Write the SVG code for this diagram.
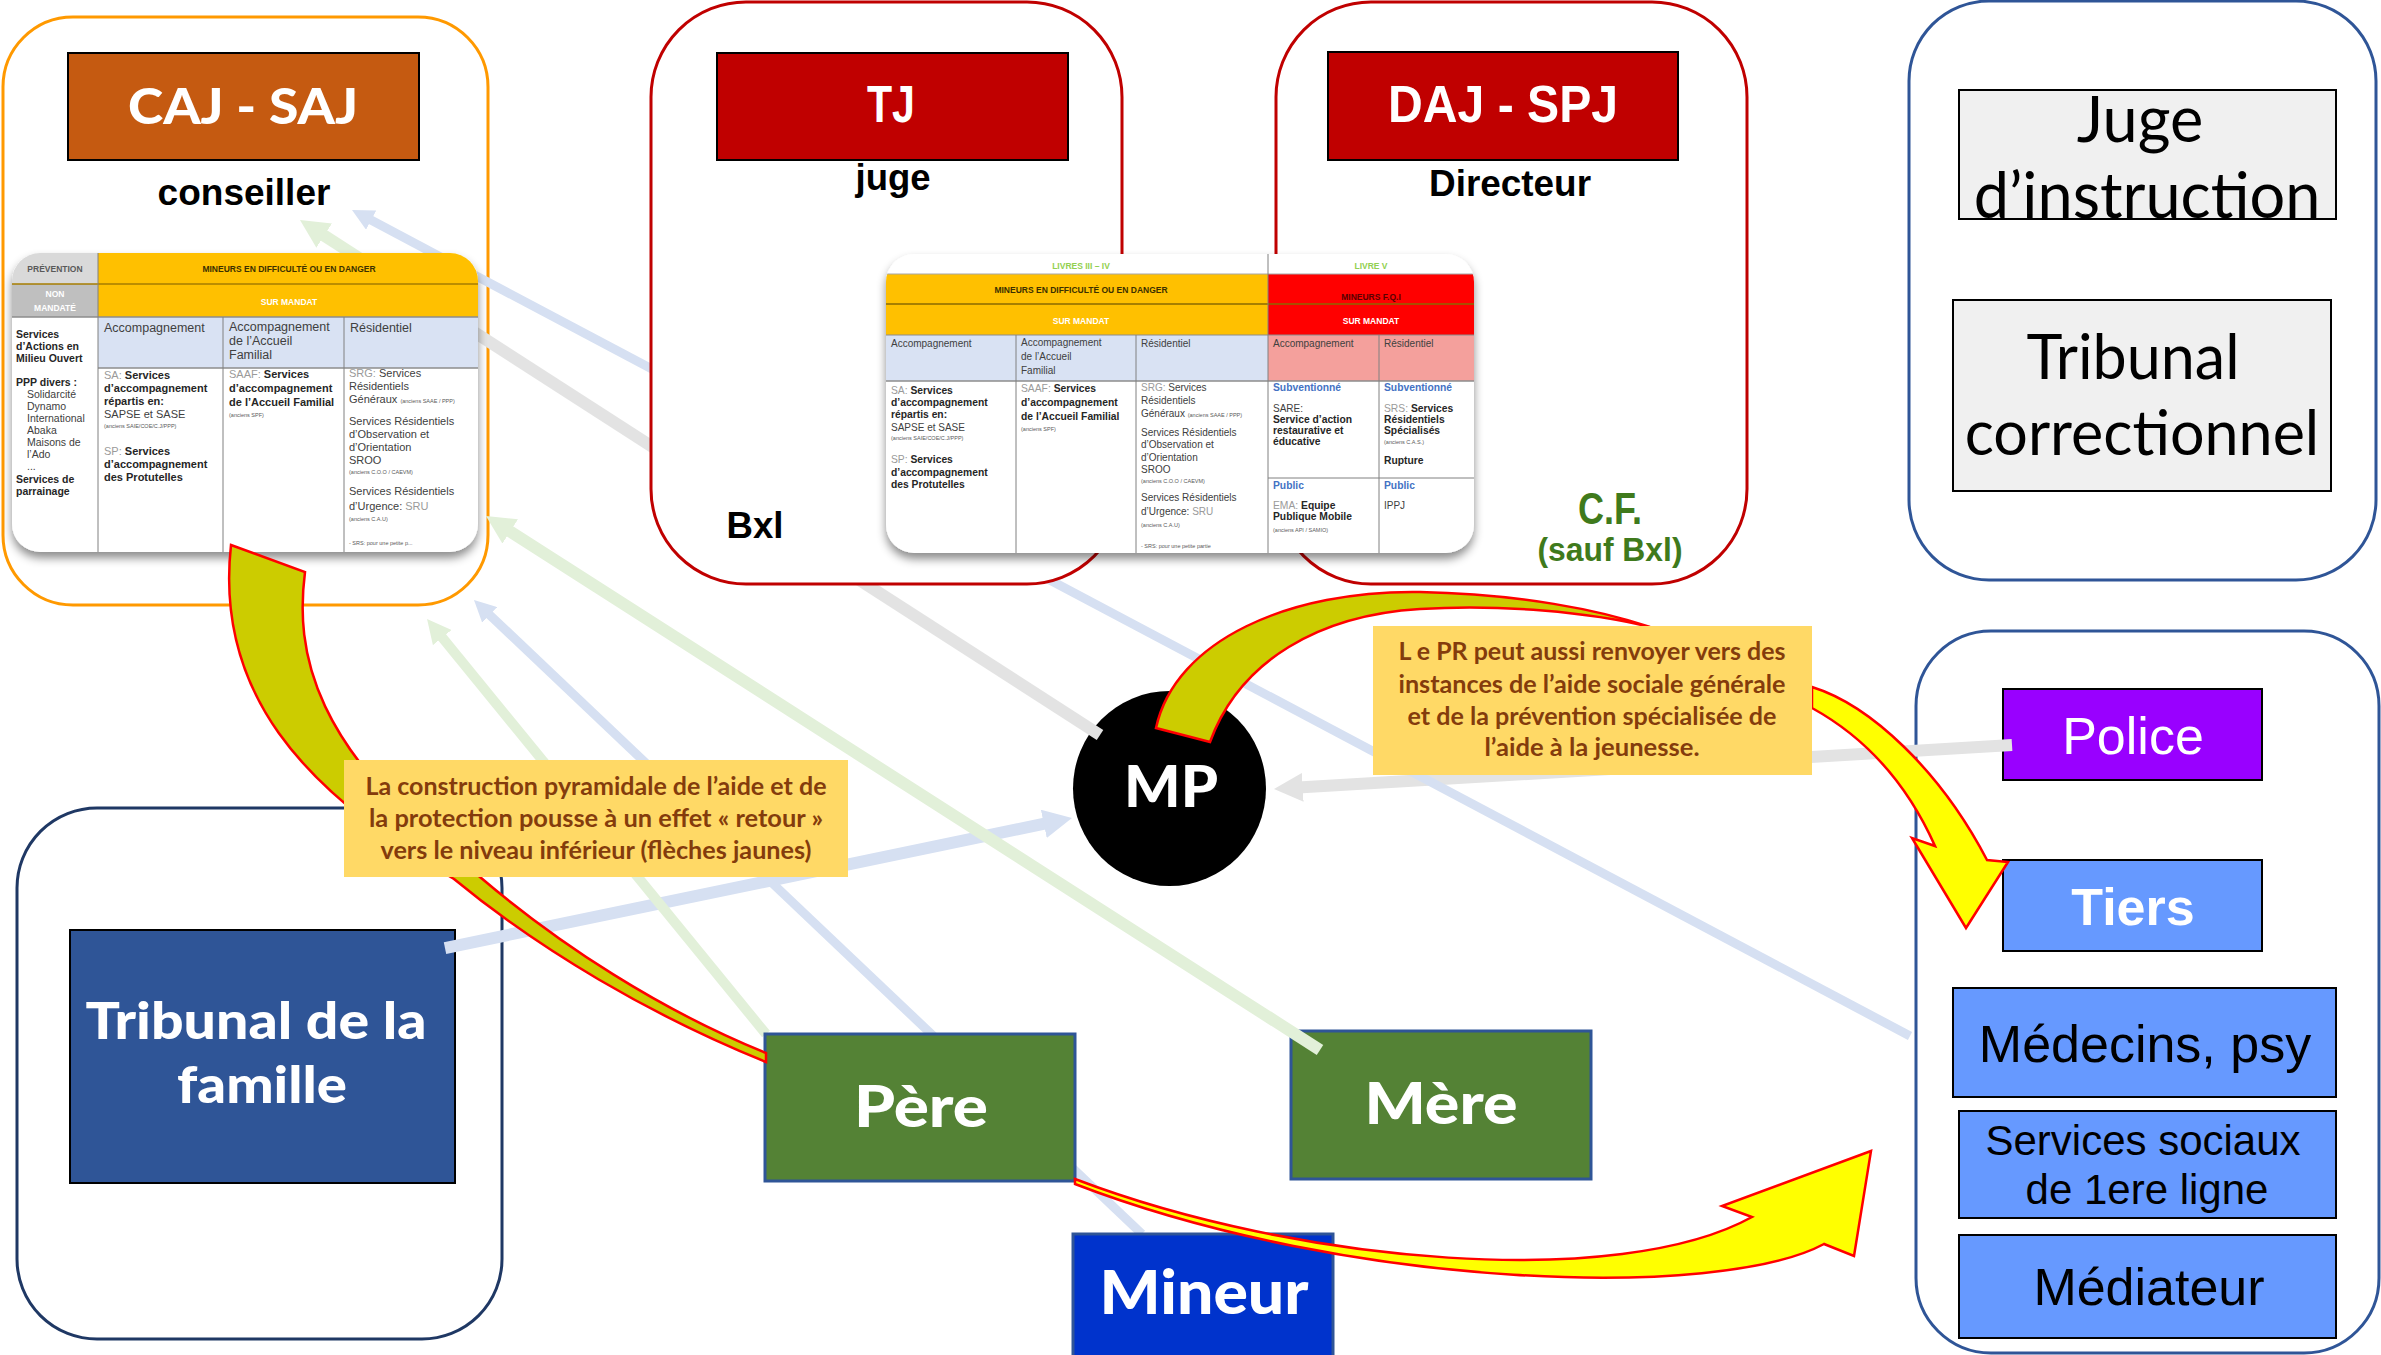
<svg xmlns="http://www.w3.org/2000/svg" width="2381" height="1355" viewBox="0 0 2381 1355">
<defs>
<style>
.cont{fill:#fff;stroke-width:3}
.box{stroke:#000;stroke-width:2}
.pbox{stroke:#2F5597;stroke-width:3}
.tw{font-family:Lato,"Liberation Sans",sans-serif;font-weight:900;fill:#fff;text-anchor:middle}
.ab{font-family:"Liberation Sans",Arial,sans-serif;font-weight:700;text-anchor:middle}
.ar{font-family:"Liberation Sans",Arial,sans-serif;text-anchor:middle}
.gs{font-family:Lato,"Liberation Sans",sans-serif;text-anchor:middle;fill:#000}
.callout{fill:#FFD966}
.ct{font-family:Lato,"Liberation Sans",sans-serif;font-weight:700;font-size:25px;fill:#843C0C;text-anchor:middle}
.conn{fill:none;stroke-linecap:butt}
.olive{fill:#CCCC00;stroke:#FF0000;stroke-width:2.5;stroke-linejoin:miter}
.yel{fill:#FFFF00;stroke:#FF0000;stroke-width:2.5;stroke-linejoin:miter}
.tb{font-family:"Liberation Sans",sans-serif;font-size:11px;font-weight:700;fill:#262626}
.tr{font-family:"Liberation Sans",sans-serif;font-size:11px;fill:#404040}
.tc1{font-family:"Liberation Sans",sans-serif;font-size:10.5px;font-weight:700;fill:#262626}
.tc1r{font-family:"Liberation Sans",sans-serif;font-size:10.5px;fill:#404040}
.tn{font-family:"Liberation Sans",sans-serif;font-size:10.3px;font-weight:700;fill:#262626}
.tnr{font-family:"Liberation Sans",sans-serif;font-size:10px;fill:#404040}
.tg{fill:#9A9A9A;font-weight:400}
.ts{font-family:"Liberation Sans",sans-serif;font-size:5.5px;fill:#595959;font-weight:400}
.th{font-family:"Liberation Sans",sans-serif;font-size:12.5px;fill:#404040}
.thn{font-family:"Liberation Sans",sans-serif;font-size:10px;fill:#404040}
.hd{font-family:"Liberation Sans",sans-serif;font-size:8.5px;font-weight:700;text-anchor:middle}
.blu{fill:#4472C4;font-weight:700}
.grid{stroke:#808080;stroke-width:1;fill:none}
</style>
<marker id="mk-blue" viewBox="0 0 10 10" refX="4.5" refY="5" markerWidth="2.4" markerHeight="2.4" orient="auto" markerUnits="strokeWidth"><path d="M0,0 L10,5 L0,10 Z" fill="#D6E0F2"/></marker>
<marker id="mk-green" viewBox="0 0 10 10" refX="4.5" refY="5" markerWidth="2.4" markerHeight="2.4" orient="auto" markerUnits="strokeWidth"><path d="M0,0 L10,5 L0,10 Z" fill="#E2F0D9"/></marker>
<marker id="mk-grey" viewBox="0 0 10 10" refX="4.5" refY="5" markerWidth="2.4" markerHeight="2.4" orient="auto" markerUnits="strokeWidth"><path d="M0,0 L10,5 L0,10 Z" fill="#E3E3E3"/></marker>
<filter id="shadow" x="-10%" y="-10%" width="120%" height="130%"><feDropShadow dx="0" dy="6" stdDeviation="5" flood-color="#000" flood-opacity="0.45"/></filter>
<clipPath id="clipCaj"><rect x="12" y="253" width="466" height="299" rx="28"/></clipPath>
<clipPath id="clipMid"><rect x="886" y="254" width="588" height="299" rx="28"/></clipPath>
<linearGradient id="gradF" gradientUnits="userSpaceOnUse" x1="300" y1="220" x2="1100" y2="735"><stop offset="0" stop-color="#E2F0D9"/><stop offset="0.1" stop-color="#E2F0D9"/><stop offset="0.2" stop-color="#E3E3E3"/><stop offset="1" stop-color="#E3E3E3"/></linearGradient>
</defs>
<rect x="0" y="0" width="2381" height="1355" fill="#fff"/>

<g id="caj-saj">
<rect class="cont" x="3" y="17" width="485" height="588" rx="70" stroke="#FF9900"/>
<rect class="box" x="68" y="53" width="351" height="107" fill="#C55A11"/>
<text class="tw" x="243" y="124" font-size="50" textLength="230" lengthAdjust="spacingAndGlyphs">CAJ - SAJ</text>
<text class="ab" x="244" y="205" font-size="37">conseiller</text>
</g>

<g id="juridictions-penales">
<rect class="cont" x="1909" y="1" width="467" height="579" rx="80" stroke="#2F5597"/>
<g id="juge-instruction">
<rect class="box" x="1959" y="90" width="377" height="129" fill="#F0F0F0"/>
<text class="gs" x="2140" y="142" font-size="63">Juge</text>
<text class="gs" x="2147" y="218" font-size="63">d’instruction</text>
</g>
<g id="tribunal-correctionnel">
<rect class="box" x="1953" y="300" width="378" height="191" fill="#F0F0F0"/>
<text class="gs" x="2133" y="379" font-size="61">Tribunal</text>
<text class="gs" x="2142" y="455" font-size="61">correctionnel</text>
</g>
</g>

<g id="intervenants">
<rect class="cont" x="1916" y="631" width="463" height="722" rx="75" stroke="#2F5597"/>
<g id="police"><rect class="box" x="2003" y="689" width="259" height="91" fill="#9900FF"/>
<text class="ar" x="2133" y="754" font-size="52" fill="#fff">Police</text></g>
<g id="tiers"><rect class="box" x="2003" y="860" width="259" height="91" fill="#6699FF"/>
<text class="ab" x="2133" y="925" font-size="52" fill="#fff">Tiers</text></g>
<g id="medecins"><rect class="box" x="1953" y="988" width="383" height="109" fill="#6699FF"/>
<text class="ar" x="2145" y="1062" font-size="52" fill="#000">Médecins, psy</text></g>
<g id="services-sociaux"><rect class="box" x="1959" y="1111" width="377" height="107" fill="#6699FF"/>
<text class="ar" x="2143" y="1155" font-size="42" fill="#000">Services sociaux</text>
<text class="ar" x="2147" y="1204" font-size="42" fill="#000">de 1ere ligne</text></g>
<g id="mediateur"><rect class="box" x="1959" y="1235" width="377" height="103" fill="#6699FF"/>
<text class="ar" x="2149" y="1305" font-size="52" fill="#000">Médiateur</text></g>
</g>

<g id="tribunal-famille">
<rect class="cont" x="17" y="808" width="485" height="531" rx="80" stroke="#1F3864"/>
<rect class="box" x="70" y="930" width="385" height="253" fill="#2F5597"/>
<text class="tw" x="256" y="1039" font-size="52" textLength="341" lengthAdjust="spacingAndGlyphs">Tribunal de la</text>
<text class="tw" x="262" y="1103" font-size="52" textLength="170" lengthAdjust="spacingAndGlyphs">famille</text>
</g>

<g id="mp">
<ellipse cx="1169.5" cy="788.5" rx="96.5" ry="97.5" fill="#000"/>
<text class="tw" x="1171" y="807" font-size="58" textLength="94" lengthAdjust="spacingAndGlyphs">MP</text>
</g>

<g id="mere">
<rect class="pbox" x="1291" y="1031" width="300" height="148" fill="#548235"/>
<text class="tw" x="1441" y="1124" font-size="58" textLength="153" lengthAdjust="spacingAndGlyphs">Mère</text>
</g>

<g id="connectors">
<line class="conn" x1="445" y1="948" x2="1056.5" y2="821.2" stroke="#D6E0F2" stroke-width="12" marker-end="url(#mk-blue)"/>
<line class="conn" x1="2012" y1="745" x2="1289.8" y2="788.1" stroke="#E3E3E3" stroke-width="12" marker-end="url(#mk-grey)"/>
<line class="conn" x1="766" y1="1034" x2="435.4" y2="629.2" stroke="#E2F0D9" stroke-width="10" marker-end="url(#mk-green)"/>
<line class="conn" x1="1142" y1="1234" x2="482.6" y2="608.2" stroke="#D6E0F2" stroke-width="9" marker-end="url(#mk-blue)"/>
<line class="conn" x1="1320" y1="1050" x2="499.3" y2="524.5" stroke="#E2F0D9" stroke-width="12" marker-end="url(#mk-green)"/>
<line class="conn" x1="1100" y1="735" x2="313.3" y2="228.6" stroke="url(#gradF)" stroke-width="12" marker-end="url(#mk-green)"/>
<line class="conn" x1="1910" y1="1036" x2="362.5" y2="215.6" stroke="#D6E0F2" stroke-width="9" marker-end="url(#mk-blue)"/>
</g>

<g id="tj">
<rect class="cont" x="651" y="2" width="471" height="582" rx="95" stroke="#C00000"/>
<rect class="box" x="717" y="53" width="351" height="107" fill="#C00000"/>
<text class="ab" x="891" y="122" font-size="52" fill="#fff" textLength="48" lengthAdjust="spacingAndGlyphs">TJ</text>
<text class="ab" x="893" y="190" font-size="37" fill="#000" textLength="75" lengthAdjust="spacingAndGlyphs">juge</text>
<text class="ab" x="755" y="538" font-size="37" fill="#000" textLength="57" lengthAdjust="spacingAndGlyphs">Bxl</text>
</g>

<g id="daj-spj">
<rect class="cont" x="1276" y="2" width="471" height="582" rx="95" stroke="#C00000"/>
<rect class="box" x="1328" y="52" width="350" height="108" fill="#C00000"/>
<text class="ab" x="1503" y="122" font-size="52" fill="#fff" textLength="230" lengthAdjust="spacingAndGlyphs">DAJ - SPJ</text>
<text class="ab" x="1510" y="196" font-size="37" fill="#000" textLength="162" lengthAdjust="spacingAndGlyphs">Directeur</text>
<text class="ab" x="1610" y="524" font-size="44" fill="#3F7A1C" textLength="64" lengthAdjust="spacingAndGlyphs">C.F.</text>
<text class="ab" x="1610" y="561" font-size="33" fill="#3F7A1C" textLength="145" lengthAdjust="spacingAndGlyphs">(sauf Bxl)</text>
</g>

<g id="tableau-caj">
<rect x="12" y="253" width="466" height="299" rx="28" fill="#fff" filter="url(#shadow)"/>
<g clip-path="url(#clipCaj)">
<rect x="12" y="253" width="86" height="31" fill="#D9D9D9"/>
<rect x="98" y="253" width="380" height="31" fill="#FFC000"/>
<rect x="12" y="284" width="86" height="33" fill="#BFBFBF"/>
<rect x="98" y="284" width="380" height="33" fill="#FFC000"/>
<rect x="98" y="317" width="380" height="51" fill="#D9E2F3"/>
<line x1="12" y1="284" x2="478" y2="284" stroke="#A67C00" stroke-width="1.5"/>
<line x1="12" y1="317" x2="478" y2="317" stroke="#8C8C8C" stroke-width="1.5"/>
<line x1="98" y1="368" x2="478" y2="368" stroke="#8C8C8C" stroke-width="1.5"/>
<path class="grid" d="M98,253 V552 M223,317 V552 M344,317 V552"/>
<text class="hd" x="55" y="272" fill="#595959">PRÉVENTION</text>
<text class="hd" x="289" y="272" fill="#3B3000" font-size="9.5">MINEURS EN DIFFICULTÉ OU EN DANGER</text>
<text class="hd" x="55" y="297" fill="#fff">NON</text>
<text class="hd" x="55" y="311" fill="#fff">MANDATÉ</text>
<text class="hd" x="289" y="305" fill="#fff" font-size="9.5">SUR MANDAT</text>
<text class="th" x="104" y="332">Accompagnement</text>
<text class="th" x="229" y="331">Accompagnement</text>
<text class="th" x="229" y="345">de l’Accueil</text>
<text class="th" x="229" y="359">Familial</text>
<text class="th" x="350" y="332">Résidentiel</text>
<text class="tc1" x="16" y="338">Services</text>
<text class="tc1" x="16" y="350">d’Actions en</text>
<text class="tc1" x="16" y="362">Milieu Ouvert</text>
<text class="tc1" x="16" y="386">PPP divers :</text>
<text class="tc1r" x="27" y="398">Solidarcité</text>
<text class="tc1r" x="27" y="410">Dynamo</text>
<text class="tc1r" x="27" y="422">International</text>
<text class="tc1r" x="27" y="434">Abaka</text>
<text class="tc1r" x="27" y="446">Maisons      de</text>
<text class="tc1r" x="27" y="458">l’Ado</text>
<text class="tc1r" x="27" y="470">...</text>
<text class="tc1" x="16" y="483">Services de</text>
<text class="tc1" x="16" y="495">parrainage</text>
<text class="tb" x="104" y="379"><tspan class="tg">SA:</tspan> Services</text>
<text class="tb" x="104" y="392">d’accompagnement</text>
<text class="tb" x="104" y="405">répartis en:</text>
<text class="tr" x="104" y="418" fill="#9A9A9A">SAPSE et SASE</text>
<text class="ts" x="104" y="428">(anciens SAIE/COE/C.J/PPP)</text>
<text class="tb" x="104" y="455"><tspan class="tg">SP:</tspan> Services</text>
<text class="tb" x="104" y="468">d’accompagnement</text>
<text class="tb" x="104" y="481">des Protutelles</text>
<text class="tb" x="229" y="378"><tspan class="tg">SAAF:</tspan> Services</text>
<text class="tb" x="229" y="392">d’accompagnement</text>
<text class="tb" x="229" y="406" font-size="10.3">de l’Accueil Familial</text>
<text class="ts" x="229" y="417">(anciens SPF)</text>
<text class="tr" x="349" y="377"><tspan fill="#9A9A9A">SRG:</tspan> Services</text>
<text class="tr" x="349" y="390">Résidentiels</text>
<text class="tr" x="349" y="403">Généraux <tspan class="ts">(anciens SAAE / PPP)</tspan></text>
<text class="tr" x="349" y="425">Services Résidentiels</text>
<text class="tr" x="349" y="438">d’Observation et</text>
<text class="tr" x="349" y="451">d’Orientation</text>
<text class="tr" x="349" y="464" fill="#9A9A9A">SROO</text>
<text class="ts" x="349" y="474">(anciens C.O.O / CAEVM)</text>
<text class="tr" x="349" y="495">Services Résidentiels</text>
<text class="tr" x="349" y="510">d’Urgence: <tspan fill="#9A9A9A">SRU</tspan></text>
<text class="ts" x="349" y="521">(anciens C.A.U)</text>
<text class="ts" x="349" y="545">- SRS: pour une petite p...</text>
</g>
</g>

<g id="tableau-central">
<rect x="886" y="254" width="588" height="299" rx="28" fill="#fff" filter="url(#shadow)"/>
<g clip-path="url(#clipMid)">
<rect x="886" y="274" width="382" height="61" fill="#FFC000"/>
<rect x="1268" y="274" width="206" height="61" fill="#FF0000"/>
<rect x="886" y="335" width="382" height="46" fill="#D9E2F3"/>
<rect x="1268" y="335" width="206" height="46" fill="#F4A09C"/>
<line x1="886" y1="274" x2="1474" y2="274" stroke="#A6A6A6" stroke-width="1"/>
<line x1="886" y1="304" x2="1474" y2="304" stroke="#8A6A00" stroke-width="1.5"/>
<line x1="886" y1="335" x2="1474" y2="335" stroke="#8C8C8C" stroke-width="1"/>
<line x1="886" y1="381" x2="1474" y2="381" stroke="#8C8C8C" stroke-width="1.5"/>
<path class="grid" d="M1016,335 V553 M1136,335 V553 M1268,254 V553 M1379,335 V553 M1268,478 H1474"/>
<text class="hd" x="1081" y="269" fill="#92D050" font-size="10" font-weight="400">LIVRES III – IV</text>
<text class="hd" x="1371" y="269" fill="#92D050" font-size="10" font-weight="400">LIVRE V</text>
<text class="hd" x="1081" y="293" fill="#3B3000">MINEURS EN DIFFICULTÉ OU EN DANGER</text>
<text class="hd" x="1371" y="300" fill="#5A0000">MINEURS F.Q.I</text>
<text class="hd" x="1081" y="324" fill="#fff">SUR MANDAT</text>
<text class="hd" x="1371" y="324" fill="#fff">SUR MANDAT</text>
<text class="thn" x="891" y="347">Accompagnement</text>
<text class="thn" x="1021" y="346">Accompagnement</text>
<text class="thn" x="1021" y="360">de l’Accueil</text>
<text class="thn" x="1021" y="374">Familial</text>
<text class="thn" x="1141" y="347">Résidentiel</text>
<text class="thn" x="1273" y="347" font-size="9.5">Accompagnement</text>
<text class="thn" x="1384" y="347">Résidentiel</text>
<text class="tn" x="891" y="394"><tspan class="tg">SA:</tspan> Services</text>
<text class="tn" x="891" y="406">d’accompagnement</text>
<text class="tn" x="891" y="418">répartis en:</text>
<text class="tnr" x="891" y="431" fill="#9A9A9A">SAPSE et SASE</text>
<text class="ts" x="891" y="440">(anciens SAIE/COE/C.J/PPP)</text>
<text class="tn" x="891" y="463"><tspan class="tg">SP:</tspan> Services</text>
<text class="tn" x="891" y="476">d’accompagnement</text>
<text class="tn" x="891" y="488">des Protutelles</text>
<text class="tn" x="1021" y="392"><tspan class="tg">SAAF:</tspan> Services</text>
<text class="tn" x="1021" y="406">d’accompagnement</text>
<text class="tn" x="1021" y="420" font-size="9.5">de l’Accueil Familial</text>
<text class="ts" x="1021" y="431">(anciens SPF)</text>
<text class="tnr" x="1141" y="391"><tspan fill="#9A9A9A">SRG:</tspan> Services</text>
<text class="tnr" x="1141" y="404">Résidentiels</text>
<text class="tnr" x="1141" y="417">Généraux <tspan class="ts">(anciens SAAE / PPP)</tspan></text>
<text class="tnr" x="1141" y="436">Services Résidentiels</text>
<text class="tnr" x="1141" y="448">d’Observation et</text>
<text class="tnr" x="1141" y="461">d’Orientation</text>
<text class="tnr" x="1141" y="473" fill="#9A9A9A">SROO</text>
<text class="ts" x="1141" y="483">(anciens C.O.O / CAEVM)</text>
<text class="tnr" x="1141" y="501">Services Résidentiels</text>
<text class="tnr" x="1141" y="515">d’Urgence: <tspan fill="#9A9A9A">SRU</tspan></text>
<text class="ts" x="1141" y="527">(anciens C.A.U)</text>
<text class="ts" x="1141" y="548">- SRS: pour une petite partie</text>
<text class="tn blu" x="1273" y="391">Subventionné</text>
<text class="tnr" x="1273" y="412" fill="#9A9A9A">SARE:</text>
<text class="tn" x="1273" y="423" font-size="8">Service d’action</text>
<text class="tn" x="1273" y="434" font-size="8">restaurative et</text>
<text class="tn" x="1273" y="445" font-size="8">éducative</text>
<text class="tn blu" x="1273" y="489">Public</text>
<text class="tn" x="1273" y="509"><tspan class="tg">EMA:</tspan> Equipe</text>
<text class="tn" x="1273" y="520">Publique Mobile</text>
<text class="ts" x="1273" y="532">(anciens API / SAMIO)</text>
<text class="tn blu" x="1384" y="391">Subventionné</text>
<text class="tn" x="1384" y="412"><tspan class="tg">SRS:</tspan> Services</text>
<text class="tn" x="1384" y="423">Résidentiels</text>
<text class="tn" x="1384" y="434">Spécialisés</text>
<text class="ts" x="1384" y="444">(anciens C.A.S.)</text>
<text class="tn" x="1384" y="464">Rupture</text>
<text class="tn blu" x="1384" y="489">Public</text>
<text class="tnr" x="1384" y="509">IPPJ</text>
</g>
</g>

<g id="pere">
<rect class="pbox" x="765" y="1034" width="310" height="147" fill="#548235"/>
<text class="tw" x="921" y="1127" font-size="58" textLength="134" lengthAdjust="spacingAndGlyphs">Père</text>
</g>

<g id="mineur">
<rect class="pbox" x="1073" y="1234" width="260" height="130" fill="#0033CC"/>
<text class="tw" x="1204" y="1314" font-size="60" textLength="209" lengthAdjust="spacingAndGlyphs">Mineur</text>
</g>

<g id="fleches-jaunes">
<path class="olive" d="M231,545 L305,572 C295,650 310,750 480,877 C560,945 660,1010 766,1053 L766,1062 C650,1015 540,950 454,879 C300,790 215,690 231,545 Z"/>
<path class="olive" d="M1156,728 C1175,640 1290,590 1420,592 C1520,594 1600,610 1650,627 C1590,612 1500,604 1420,609 C1320,615 1240,660 1210,742 Z"/>
<path class="yel" d="M1812,687 C1870,705 1940,770 1987,860 L2008,862 L1966,928 L1912,838 L1935,846 C1910,790 1870,740 1812,708 Z"/>
<path class="yel" d="M1075,1179 C1300,1265 1620,1290 1752,1217 L1722,1206 L1871,1151 L1854,1256 L1824,1244 C1720,1300 1350,1290 1075,1184 Z"/>
</g>

<g id="note-pyramide">
<rect class="callout" x="344" y="760" width="504" height="117"/>
<text class="ct" x="596" y="795" textLength="461" lengthAdjust="spacingAndGlyphs">La construction pyramidale de l’aide et de</text>
<text class="ct" x="596" y="827" textLength="454" lengthAdjust="spacingAndGlyphs">la protection pousse à un effet « retour »</text>
<text class="ct" x="596" y="859" textLength="431" lengthAdjust="spacingAndGlyphs">vers le niveau inférieur (flèches jaunes)</text>
</g>

<g id="note-pr">
<rect class="callout" x="1373" y="626" width="439" height="149"/>
<text class="ct" x="1592" y="660" textLength="387" lengthAdjust="spacingAndGlyphs">L e PR peut aussi renvoyer vers des</text>
<text class="ct" x="1592" y="693" textLength="387" lengthAdjust="spacingAndGlyphs">instances de l’aide sociale générale</text>
<text class="ct" x="1592" y="725" textLength="369" lengthAdjust="spacingAndGlyphs">et de la prévention spécialisée de</text>
<text class="ct" x="1592" y="756" textLength="215" lengthAdjust="spacingAndGlyphs">l’aide à la jeunesse.</text>
</g>
</svg>
